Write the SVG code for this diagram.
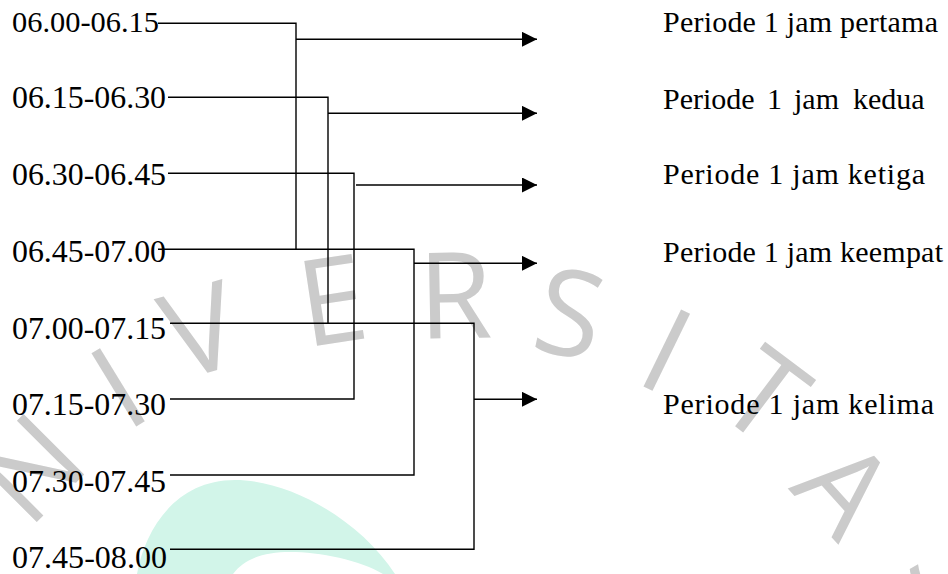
<svg xmlns="http://www.w3.org/2000/svg" width="948" height="574" viewBox="0 0 948 574">
<style>
.lbl{font-family:"Liberation Serif",Tinos,"Times New Roman",Times,serif;font-size:31px;fill:#000}
.rlbl{font-family:"Liberation Serif",Tinos,"Times New Roman",Times,serif;font-size:30px;fill:#000}
.wm{font-family:"Open Sans","DejaVu Sans",sans-serif;font-size:120px;fill:#cbcbcb;text-anchor:middle}
.ln{fill:none;stroke:#000;stroke-width:1.4}
</style>
<defs>
<marker id="ah" markerUnits="userSpaceOnUse" markerWidth="16" markerHeight="16" refX="15" refY="7.5" orient="auto">
<path d="M0,0 L15,7.5 L0,15 Z" fill="#000"/>
</marker>
</defs>
<rect width="948" height="574" fill="#fff"/>
<g id="watermark">
<path d="M137,574 C145,530 175,480 235,480 C290,480 360,520 395,574 Z M233,574 C245,558 265,552 290,552 C320,552 360,560 383,574 Z" fill="#d2f5e9" fill-rule="evenodd"/>
<g transform="translate(30,468) rotate(-45)"><text class="wm" x="0" y="43">N</text></g>
<g transform="translate(118,387) rotate(-31.5)"><text class="wm" x="0" y="43">I</text></g>
<g transform="translate(200,330) rotate(-16.5)"><text class="wm" x="0" y="43">V</text></g>
<g transform="translate(332,300) rotate(-8.6)"><text class="wm" x="0" y="43">E</text></g>
<g transform="translate(455,295) rotate(-1)"><text class="wm" x="0" y="43">R</text></g>
<g transform="translate(570,313) rotate(12)"><text class="wm" x="0" y="43">S</text></g>
<g transform="translate(667,350) rotate(26)"><text class="wm" x="0" y="43">I</text></g>
<g transform="translate(765,395) rotate(37)"><text class="wm" x="0" y="43">T</text></g>
<g transform="translate(845,488) rotate(48)"><text class="wm" x="0" y="43">A</text></g>
<g transform="translate(958,572) rotate(60)"><text class="wm" x="0" y="43">S</text></g>
</g>
<g id="connectors">
<path class="ln" d="M158,23.3 H296 V249.3"/>
<path class="ln" d="M158,249.3 H414 V475 H170"/>
<path class="ln" d="M168,97.3 H328 V323.3"/>
<path class="ln" d="M170,323.3 H474 V549.3 H170"/>
<path class="ln" d="M168,173.3 H354 V399 H170"/>
<path class="ln" d="M296,39.3 H537" marker-end="url(#ah)"/>
<path class="ln" d="M328,113.3 H537" marker-end="url(#ah)"/>
<path class="ln" d="M356,185 H537" marker-end="url(#ah)"/>
<path class="ln" d="M414,263.3 H537" marker-end="url(#ah)"/>
<path class="ln" d="M474,399.3 H537" marker-end="url(#ah)"/>
</g>
<g id="t1"><text class="lbl" x="12" y="32.3" style="font-size:30px" textLength="147" lengthAdjust="spacingAndGlyphs">06.00-06.15</text></g>
<g id="t2"><text class="lbl" x="12" y="108.3" textLength="154" lengthAdjust="spacingAndGlyphs">06.15-06.30</text></g>
<g id="t3"><text class="lbl" x="12" y="185" textLength="154" lengthAdjust="spacingAndGlyphs">06.30-06.45</text></g>
<g id="t4"><text class="lbl" x="12" y="261.7" textLength="154" lengthAdjust="spacingAndGlyphs">06.45-07.00</text></g>
<g id="t5"><text class="lbl" x="12" y="338.5" textLength="154" lengthAdjust="spacingAndGlyphs">07.00-07.15</text></g>
<g id="t6"><text class="lbl" x="12" y="415" textLength="154" lengthAdjust="spacingAndGlyphs">07.15-07.30</text></g>
<g id="t7"><text class="lbl" x="12" y="491.7" textLength="154" lengthAdjust="spacingAndGlyphs">07.30-07.45</text></g>
<g id="t8"><text class="lbl" x="12" y="568" textLength="155" lengthAdjust="spacingAndGlyphs">07.45-08.00</text></g>
<g id="p1"><text class="rlbl" x="663" y="32.3" textLength="275" lengthAdjust="spacing">Periode 1 jam pertama</text></g>
<g id="p2"><text class="rlbl" y="109"><tspan x="663">Periode</tspan><tspan x="767">1</tspan><tspan x="794">jam</tspan><tspan x="853">kedua</tspan></text></g>
<g id="p3"><text class="rlbl" x="663" y="184.3" textLength="262" lengthAdjust="spacing">Periode 1 jam ketiga</text></g>
<g id="p4"><text class="rlbl" x="663" y="262.3" textLength="280" lengthAdjust="spacing">Periode 1 jam keempat</text></g>
<g id="p5"><text class="rlbl" x="663" y="414" textLength="271" lengthAdjust="spacing">Periode 1 jam kelima</text></g>
</svg>
